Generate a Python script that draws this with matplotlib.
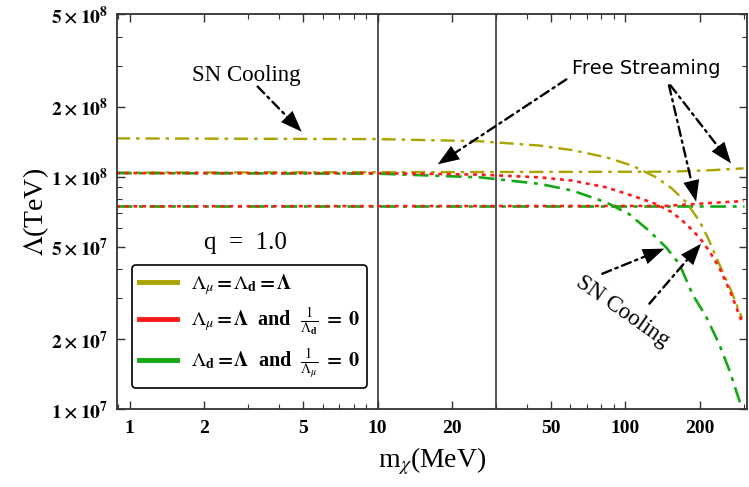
import matplotlib
matplotlib.use("Agg")
import matplotlib.pyplot as plt
from matplotlib.ticker import FixedLocator, NullFormatter

plt.rcParams['mathtext.fontset'] = 'stix'
plt.rcParams['font.family'] = ['Liberation Serif', 'DejaVu Serif']

# ======================
# DATA
# ======================
# SN cooling curves
m_yel_sn = [0.88, 10, 25.8, 45, 61.1, 83.8, 106.6, 133.3, 154.8, 176.2, 198.8, 218.1, 239.4, 265, 296]
lam_yel_sn = [1.46e8, 1.45e8, 1.42e8, 1.36e8, 1.30e8, 1.21e8, 1.115e8, 0.993e8, 0.885e8, 0.774e8,
              0.646e8, 0.529e8, 0.420e8, 0.33e8, 0.245e8]

m_red_sn = [0.88, 10, 25.8, 45, 61.1, 83.8, 106.6, 133.3, 154.8, 176.2, 198.8, 218.1, 239.4, 265, 296]
lam_red_sn = [1.035e8, 1.035e8, 1.02e8, 0.993e8, 0.961e8, 0.899e8, 0.828e8, 0.762e8, 0.701e8, 0.625e8,
              0.547e8, 0.479e8, 0.406e8, 0.32e8, 0.236e8]

m_grn_sn = [0.88, 10, 25.8, 45, 61.1, 83.8, 103.5, 124.6, 146.4, 165.4, 186.6, 212.5, 239.4, 263.5, 296]
lam_grn_sn = [1.035e8, 1.03e8, 0.993e8, 0.931e8, 0.871e8, 0.774e8, 0.690e8, 0.585e8, 0.495e8, 0.420e8,
              0.312e8, 0.248e8, 0.190e8, 0.146e8, 0.1e8]

# free streaming curves
m_yel_fs = [0.88, 150, 220, 300]
lam_yel_fs = [1.04e8, 1.05e8, 1.065e8, 1.085e8]

m_red_fs = [0.88, 146, 212, 300]
lam_red_fs = [0.745e8, 0.748e8, 0.768e8, 0.785e8]

m_grn_fs = [0.88, 300]
lam_grn_fs = [0.745e8, 0.745e8]

vlines_m = [10, 30]

xticks = [1, 2, 5, 10, 20, 50, 100, 200]
yticks = [1e7, 2e7, 5e7, 1e8, 2e8, 5e8]
ytick_labels = [r'$\mathbf{1\times10^{7}}$', r'$\mathbf{2\times10^{7}}$', r'$\mathbf{5\times10^{7}}$',
                r'$\mathbf{1\times10^{8}}$', r'$\mathbf{2\times10^{8}}$', r'$\mathbf{5\times10^{8}}$']

legend_labels = [r'$\boldsymbol{\Lambda_\mu = \Lambda_\mathbf{d} = \Lambda}$',
                 r'$\boldsymbol{\Lambda_\mu = \Lambda}$  and  $\boldsymbol{\frac{1}{\Lambda_\mathbf{d}}\ =\ 0}$',
                 r'$\boldsymbol{\Lambda_\mathbf{d} = \Lambda}$  and  $\boldsymbol{\frac{1}{\Lambda_\mu}\ =\ 0}$']

c_yel = '#aaa300'
c_red = '#ff1a1a'
c_grn = '#14a814'

# ======================
# FIGURE
# ======================
fig = plt.figure(figsize=(7.49, 4.87), dpi=100)
ax = fig.add_axes([0.156, 0.160, 0.841, 0.811])
ax.set_xscale('log')
ax.set_yscale('log')
ax.set_xlim(0.887, 309)
ax.set_ylim(1e7, 5e8)

for m in vlines_m:
    ax.axvline(m, color='#555555', lw=1.4, zorder=1)

dd = (6, 2.5, 1.5, 2.5)
ax.plot(m_yel_fs, lam_yel_fs, color=c_yel, lw=1.7, dashes=dd)
ax.plot(m_grn_fs, lam_grn_fs, color=c_grn, lw=1.9, dashes=dd)
ax.plot(m_red_fs, lam_red_fs, color=c_red, lw=1.9, dashes=(1.5, 1.8))
ax.plot(m_yel_sn, lam_yel_sn, color=c_yel, lw=1.7, dashes=dd)
ax.plot(m_grn_sn, lam_grn_sn, color=c_grn, lw=1.9, dashes=dd)
ax.plot(m_red_sn, lam_red_sn, color=c_red, lw=1.9, dashes=(1.5, 1.8))

# legend with solid handles
handles = [plt.Line2D([], [], color=c, lw=3.5) for c in (c_yel, c_red, c_grn)]
leg = ax.legend(handles, legend_labels, loc='lower left', bbox_to_anchor=(0.008, 0.028),
                prop={'weight': 'bold', 'size': 14.5}, frameon=True, fancybox=True,
                edgecolor='black', framealpha=1, handlelength=1.9, labelspacing=0.45,
                borderpad=0.35, handletextpad=0.7)
leg.get_frame().set_linewidth(1.2)


# dash-dot shaft + solid filled head
def arrow(tip, tail):
    ax.annotate('', xy=tip, xytext=tail,
                arrowprops=dict(arrowstyle='-', color='black', lw=1.7,
                                linestyle=(0, (4, 2, 1, 2)), shrinkA=0, shrinkB=6))
    ax.annotate('', xy=tip, xytext=tail,
                arrowprops=dict(arrowstyle='-|>,head_length=0.45,head_width=0.17',
                                fc='black', ec='none', lw=0, mutation_scale=34,
                                shrinkA=0, shrinkB=0))


ax.text(2.96, 2.72e8, 'SN Cooling', ha='center', va='center', fontsize=16.5)
arrow((4.94, 1.56e8), (3.28, 2.44e8))

ax.text(121.6, 2.93e8, 'Free Streaming', ha='center', va='center', fontsize=14,
        family='DejaVu Sans')
arrow((17.5, 1.13e8), (57.8, 2.62e8))
arrow((193, 7.8e7), (150, 2.47e8))
arrow((267, 1.14e8), (152, 2.47e8))

ax.text(97, 2.64e7, 'SN Cooling', ha='center', va='center', fontsize=16.5, rotation=-35)
arrow((143.6, 4.9e7), (80.7, 3.82e7))
arrow((202, 5.14e7), (125, 2.84e7))

ax.text(2.94, 5.2e7, 'q  =  1.0', ha='center', va='center', fontsize=18)

# ticks
ax.xaxis.set_major_locator(FixedLocator(xticks))
ax.set_xticklabels([str(t) for t in xticks], fontweight='bold', fontsize=14)
ax.yaxis.set_major_locator(FixedLocator(yticks))
ax.set_yticklabels(ytick_labels, fontsize=14)
ax.xaxis.set_minor_formatter(NullFormatter())
ax.yaxis.set_minor_formatter(NullFormatter())
ax.tick_params(which='both', direction='in', top=True, right=True, color='#333333')
ax.tick_params(which='major', length=6, width=1)
ax.tick_params(which='minor', length=3.5, width=0.8)
ax.tick_params(axis='x', pad=8)
ax.tick_params(axis='y', pad=6)

for s in ax.spines.values():
    s.set_linewidth(1.3)
    s.set_color('#333333')

ax.set_xlabel(r'm$_\chi$(MeV)', fontsize=20, labelpad=6)
ax.set_ylabel(r'$\Lambda$(TeV)', fontsize=20, labelpad=0)

fig.savefig('out.png', dpi=100)
